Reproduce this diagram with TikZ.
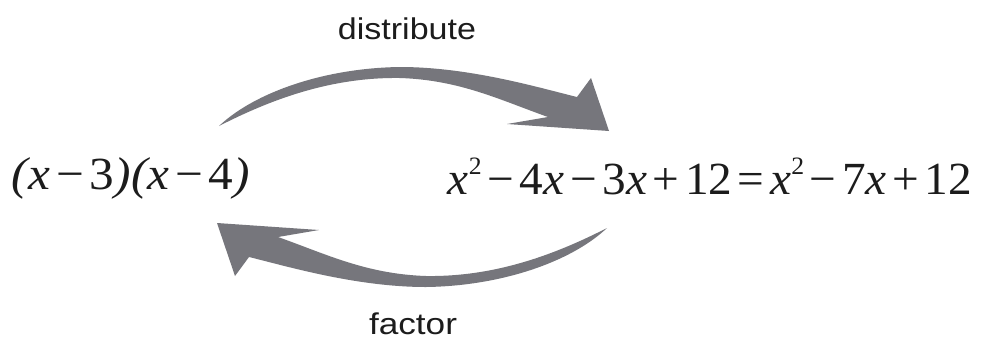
\documentclass[tikz,border=0pt]{standalone}
\usepackage{fontspec}
\usepackage{graphicx}
\setmainfont{Liberation Serif}
\newfontfamily\labelfont{Liberation Sans}
\definecolor{arrowgray}{RGB}{118,118,124}
\definecolor{inkcol}{RGB}{28,28,28}
\newcommand{\vx}{{\itshape x}}
\newcommand{\sqr}{\raisebox{0.42em}{\fontsize{25}{25}\selectfont 2}}
\newcommand{\opsp}[1]{\hspace{0.12em}#1\hspace{0.12em}}
\begin{document}
\begin{tikzpicture}[x=1pt,y=-1pt,
  lbl/.style={anchor=base,inner sep=0pt,text=inkcol,font=\labelfont\fontsize{30}{34}\selectfont},
  expr/.style={anchor=base,inner sep=0pt,text=inkcol,font=\fontsize{46}{52}\selectfont},
  bigarrow/.style={fill=arrowgray,draw=none}]
\useasboundingbox (0,0) rectangle (982,341);
\fill[white] (0,0) rectangle (982,341);
% texts
\node[lbl] (dist) at (407,39) {\resizebox{138pt}{\height}{distribute}};
\node[lbl] (fact) at (413,334) {\resizebox{88pt}{\height}{factor}};
\node[expr] (lhs) at (131,189) {\resizebox{238pt}{\height}{{\itshape(x}\opsp{−}3{\itshape)(x}\opsp{−}4{\itshape)}}};
\node[expr] (rhs) at (710,194) {\resizebox{524pt}{\height}{\vx\sqr\opsp{−}4\vx\opsp{−}3\vx\opsp{+}12\opsp{=}\vx\sqr\opsp{−}7\vx\opsp{+}12}};
% upper arrow (distribute)
\path[bigarrow] (219,126) .. controls (255,92) and (325,68) .. (400,67)
  .. controls (470,67) and (540,88) .. (577,97) -- (591,78) -- (609,131)
  -- (507,124) -- (548,117) .. controls (500,100) and (460,80) .. (400,78)
  .. controls (330,77) and (270,100) .. (219,126) -- cycle;
% lower arrow (factor), point reflection of the upper one
\begin{scope}[rotate around={180:(413,177)}]
\path[bigarrow] (219,126) .. controls (255,92) and (325,68) .. (400,67)
  .. controls (470,67) and (540,88) .. (577,97) -- (591,78) -- (609,131)
  -- (507,124) -- (548,117) .. controls (500,100) and (460,80) .. (400,78)
  .. controls (330,77) and (270,100) .. (219,126) -- cycle;
\end{scope}
\end{tikzpicture}
\end{document}
